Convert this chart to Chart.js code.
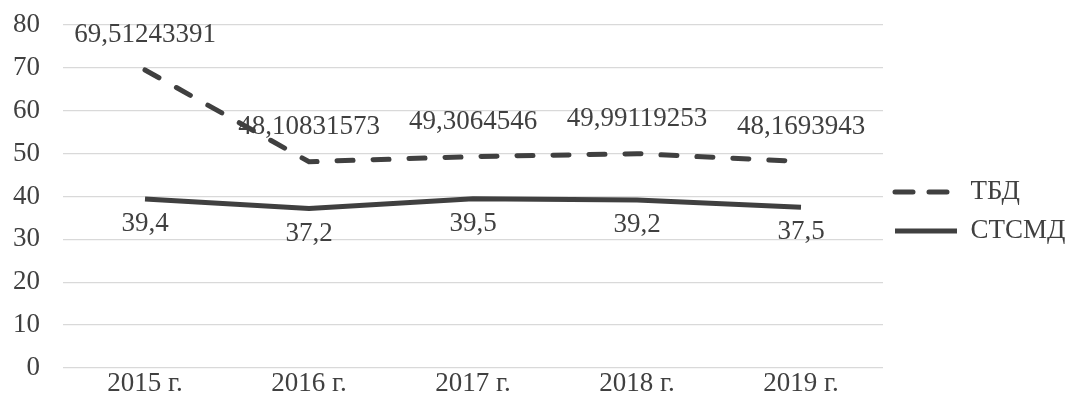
<!DOCTYPE html>
<html>
<head>
<meta charset="utf-8">
<script src="https://cdn.jsdelivr.net/npm/chart.js@4"></script>
<style>
  html, body { margin: 0; padding: 0; background: #fff; }
  #wrap { width: 1071px; height: 412px; }
</style>
</head>
<body>
<div id="wrap"><canvas id="grafico"></canvas></div>
<script>
const years = ["2015 г.", "2016 г.", "2017 г.", "2018 г.", "2019 г."];
const tbd = [69.51243391, 48.10831573, 49.3064546, 49.99119253, 48.1693943];
const tbdLabels = ["69,51243391", "48,10831573", "49,3064546", "49,99119253", "48,1693943"];
const stsmd = [39.4, 37.2, 39.5, 39.2, 37.5];
const stsmdLabels = ["39,4", "37,2", "39,5", "39,2", "37,5"];
const yTicks = [0, 10, 20, 30, 40, 50, 60, 70, 80];

const FONT = "'Liberation Serif', 'Times New Roman', serif";
const TEXT = "#404040";
const LINE = "#404040";

// подписи значений над/под точками
const etiquetas = {
  id: "etiquetas",
  afterDatasetsDraw(chart) {
    const ctx = chart.ctx;
    ctx.save();
    ctx.font = "27px " + FONT;
    ctx.fillStyle = TEXT;
    ctx.textAlign = "center";
    ctx.textBaseline = "middle";
    chart.data.datasets.forEach((ds, i) => {
      const meta = chart.getDatasetMeta(i);
      meta.data.forEach((pt, j) => {
        const dy = ds.labelPos === "above" ? -35 : 25;
        ctx.fillText(ds.etiquetas[j], pt.x, pt.y + dy);
      });
    });
    ctx.restore();
  }
};

new Chart(document.getElementById("grafico"), {
  type: "line",
  data: {
    labels: years,
    datasets: [
      {
        label: "ТБД",
        data: tbd,
        etiquetas: tbdLabels,
        labelPos: "above",
        borderColor: LINE,
        backgroundColor: LINE,
        borderWidth: 5,
        borderDash: [16, 20],
        borderCapStyle: "round",
        pointRadius: 0,
        tension: 0
      },
      {
        label: "СТСМД",
        data: stsmd,
        etiquetas: stsmdLabels,
        labelPos: "below",
        borderColor: LINE,
        backgroundColor: LINE,
        borderWidth: 5,
        borderCapStyle: "butt",
        pointRadius: 0,
        tension: 0
      }
    ]
  },
  options: {
    responsive: true,
    maintainAspectRatio: false,
    animation: false,
    layout: { padding: { top: 11, right: 0, left: 0, bottom: 0 } },
    plugins: {
      tooltip: { enabled: false },
      legend: {
        position: "right",
        align: "center",
        maxWidth: 188,
        labels: {
          usePointStyle: true,
          pointStyle: "line",
          pointStyleWidth: 62,
          boxWidth: 62,
          boxHeight: 27,
          padding: 12,
          color: TEXT,
          font: { family: FONT, size: 27 },
          generateLabels(chart) {
            const items = Chart.defaults.plugins.legend.labels.generateLabels(chart);
            items.forEach(it => {
              const ds = chart.data.datasets[it.datasetIndex];
              it.lineDash = ds.borderDash ? [18, 16] : [];
              it.lineCap = ds.borderCapStyle;
              it.lineWidth = ds.borderWidth;
            });
            return items;
          }
        }
      }
    },
    scales: {
      x: {
        offset: true,
        grid: { display: false, drawTicks: false },
        border: { display: false },
        ticks: { color: TEXT, font: { family: FONT, size: 27 }, padding: 0 },
        afterFit(scale) { scale.height = 44; }
      },
      y: {
        min: 0,
        max: 80,
        afterBuildTicks(scale) { scale.ticks = yTicks.map(v => ({ value: v })); },
        grid: { color: "#d9d9d9", lineWidth: 1.3, drawTicks: false },
        border: { display: false },
        ticks: { color: TEXT, font: { family: FONT, size: 27 }, padding: 23 },
        afterFit(scale) {
          scale.width = 63;
          scale.paddingTop = 25;
          scale.paddingBottom = 0;
        }
      }
    }
  },
  plugins: [etiquetas]
});
</script>
</body>
</html>
